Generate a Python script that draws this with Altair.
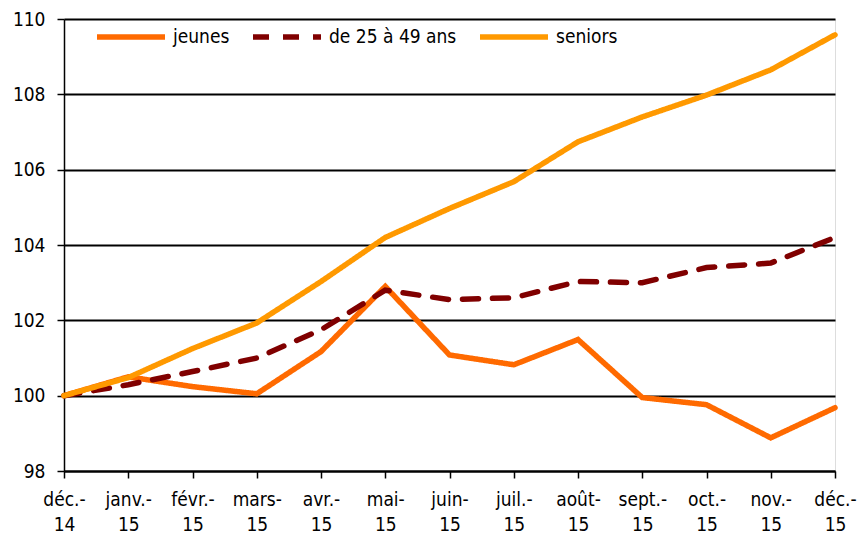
import altair as alt
import pandas as pd

months = ["déc.-14", "janv.-15", "févr.-15", "mars-15", "avr.-15", "mai-15", "juin-15",
          "juil.-15", "août-15", "sept.-15", "oct.-15", "nov.-15", "déc.-15"]
series_names = ["jeunes", "de 25 à 49 ans", "seniors"]
jeunes = [100.0, 100.5, 100.24, 100.05, 101.17, 102.9, 101.08, 100.82, 101.49, 99.95, 99.76, 98.88, 99.68]
age_25_49 = [100.0, 100.29, 100.64, 101.0, 101.75, 102.8, 102.55, 102.6, 103.03, 103.0, 103.4, 103.52, 104.2]
seniors = [100.0, 100.48, 101.25, 101.93, 103.03, 104.2, 104.97, 105.68, 106.74, 107.4, 107.98, 108.65, 109.58]
y_ticks = [98, 100, 102, 104, 106, 108, 110]

rows = []
for name, vals in zip(series_names, [jeunes, age_25_49, seniors]):
    for i, (m, v) in enumerate(zip(months, vals)):
        rows.append({"mois": m, "serie": name, "valeur": v, "ordre": i})
df = pd.DataFrame(rows)

FONT = "DejaVu Sans Condensed"

leg = alt.Legend(
    title=None, orient="none", legendX=30, legendY=-19, direction="horizontal",
    symbolType="stroke", symbolSize=4624, symbolStrokeWidth=5.5,
    labelFontSize=19, labelFont=FONT, labelColor="black", labelOffset=5,
    columnPadding=12, padding=0,
)

chart = alt.Chart(df).mark_line(strokeWidth=5.5, strokeCap="round").encode(
    x=alt.X("mois:N", sort=months, scale=alt.Scale(type="point", padding=0),
            axis=alt.Axis(title=None, labelAngle=0, grid=False, domainColor="black", domainWidth=2,
                          tickColor="black", tickWidth=1.5, tickSize=7, labelPadding=12,
                          labelFont=FONT, labelFontSize=19, labelColor="black", labelLineHeight=25,
                          labelExpr="[slice(datum.label, 0, length(datum.label) - 2), slice(datum.label, -2)]")),
    y=alt.Y("valeur:Q", scale=alt.Scale(domain=[98, 110], nice=False, zero=False),
            axis=alt.Axis(title=None, values=y_ticks, grid=True, gridColor="black", gridWidth=2,
                          domainColor="black", domainWidth=1.5, tickColor="black", tickWidth=1.5,
                          tickSize=7, labelPadding=12, labelFont=FONT, labelFontSize=19,
                          labelColor="black")),
    color=alt.Color("serie:N", sort=series_names,
                    scale=alt.Scale(domain=series_names, range=["#FF6A00", "#800000", "#FF9900"]),
                    legend=leg),
    strokeDash=alt.StrokeDash("serie:N", sort=series_names,
                              scale=alt.Scale(domain=series_names, range=[[1, 0], [16, 14], [1, 0]]),
                              legend=leg),
    order="ordre:Q",
).properties(
    width=771, height=452,
    autosize=alt.AutoSizeParams(type="none"),
    padding={"left": 56, "top": 11, "right": 22, "bottom": 64},
).configure_view(stroke=None).configure(background="white")

chart.save("out.html", embed_options={"renderer": "svg", "actions": False})
